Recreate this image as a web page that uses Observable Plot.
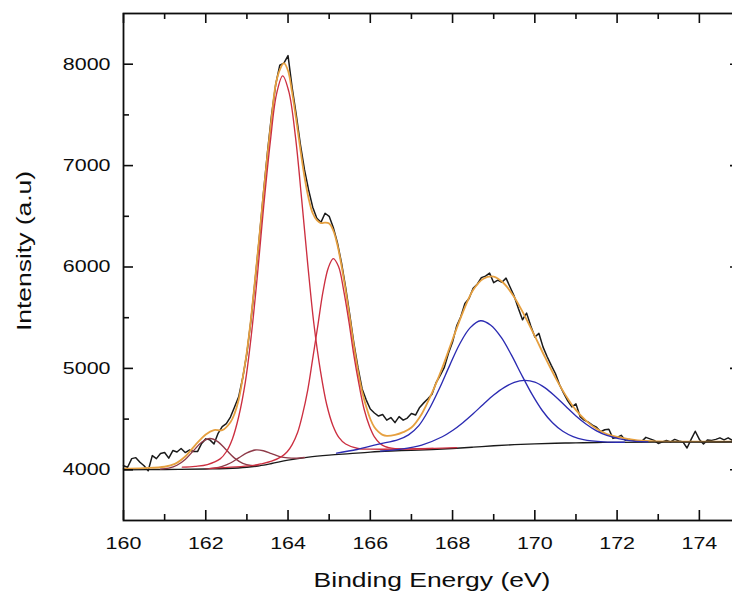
<!DOCTYPE html>
<html><head><meta charset="utf-8">
<script src="https://cdn.jsdelivr.net/npm/d3@7"></script>
<script src="https://cdn.jsdelivr.net/npm/@observablehq/plot@0.6"></script>
<style>html,body{margin:0;padding:0;background:#fff;} #chart{width:732px;height:598px;overflow:hidden}</style>
</head><body><div id="chart"></div>
<script>
// ---- tick values / labels ----
const xMajor = [160, 162, 164, 166, 168, 170, 172, 174];
const xMinor = [161, 163, 165, 167, 169, 171, 173];
const yMajor = [4000, 5000, 6000, 7000, 8000];
const yMinor = [4500, 5500, 6500, 7500];
const xTitle = "Binding Energy (eV)";
const yTitle = "Intensity (a.u)";

// ---- raw spectrum (0.1 eV steps from 160.0 to 175.0) ----
const rawStart = 160, rawStep = 0.1;
const rawIntensity = [
  4040, 4025, 4110, 4120, 4075, 4040, 3990, 4140, 4110, 4160,
  4170, 4115, 4190, 4175, 4210, 4170, 4195, 4180, 4180, 4260,
  4305, 4295, 4255, 4360, 4425, 4455, 4520, 4620, 4720, 4910,
  5150, 5480, 5870, 6280, 6720, 7130, 7500, 7800, 7990, 8010,
  8085, 7770, 7500, 7210, 6960, 6760, 6590, 6480, 6440, 6530,
  6500, 6390, 6240, 6040, 5800, 5530, 5250, 5010, 4800, 4690,
  4600, 4560, 4530, 4545, 4490, 4515, 4465, 4525, 4490, 4510,
  4555, 4540, 4615, 4660, 4700, 4745, 4860, 4930, 5010, 5150,
  5260, 5420, 5510, 5640, 5690, 5790, 5830, 5895, 5910, 5940,
  5845, 5870, 5850, 5890, 5800, 5710, 5590, 5480, 5545, 5420,
  5310, 5345, 5210, 5115, 5030, 4950, 4840, 4755, 4680, 4620,
  4650, 4525, 4490, 4470, 4440, 4420, 4375, 4395, 4400, 4310,
  4320, 4340, 4290, 4300, 4290, 4285, 4280, 4320, 4305, 4290,
  4260, 4275, 4290, 4275, 4300, 4285, 4275, 4215, 4300, 4380,
  4300, 4255, 4295, 4290, 4300, 4315, 4295, 4315, 4290, 4300,
  4290
];

// ---- fitted envelope ----
const envEnergy = [160, 160.5, 161, 161.25, 161.5, 161.75, 162, 162.2, 162.4, 162.6, 162.7, 162.8, 162.9,
  163.0, 163.1, 163.2, 163.3, 163.4, 163.5, 163.6, 163.7, 163.8, 163.9,
  164.0, 164.1, 164.2, 164.3, 164.4, 164.5, 164.6, 164.7, 164.8, 164.9,
  165.0, 165.1, 165.2, 165.3, 165.4, 165.5, 165.6, 165.7, 165.8, 165.9,
  166.0, 166.1, 166.2, 166.3, 166.4, 166.6, 166.8, 167.0, 167.25, 167.5, 167.75, 168.0,
  168.25, 168.5, 168.75, 169.0, 169.25, 169.5, 169.75, 170.0, 170.25, 170.5, 170.75, 171.0,
  171.25, 171.5, 171.75, 172.0, 172.5, 173.0, 174.0, 175.0];
const envIntensity = [4012, 4017, 4030, 4058, 4131, 4246, 4349, 4392, 4391, 4469, 4554, 4691, 4911,
  5166, 5494, 5882, 6286, 6711, 7111, 7470, 7800, 7945, 8010,
  7935, 7720, 7450, 7160, 6890, 6678, 6530, 6462, 6433, 6437,
  6428, 6360, 6218, 6013, 5771, 5504, 5225, 4975, 4772, 4624,
  4501, 4419, 4374, 4344, 4335, 4344, 4371, 4417, 4551, 4759, 5005, 5285,
  5553, 5774, 5885, 5905, 5837, 5702, 5521, 5318, 5108, 4909, 4734, 4588,
  4483, 4404, 4352, 4324, 4290, 4279, 4277, 4277];

// ---- background ----
const bgEnergy = [160, 161, 162, 162.5, 163, 163.3, 163.6, 164, 164.5, 165, 165.5, 166, 166.5, 167, 167.5,
  168, 168.5, 169, 169.5, 170, 170.5, 171, 171.5, 172, 173, 175];
const bgIntensity = [4000, 4003, 4008, 4013, 4025, 4040, 4062, 4095, 4125, 4145, 4160, 4175, 4185, 4192, 4200,
  4210, 4223, 4237, 4248, 4256, 4262, 4266, 4269, 4271, 4273, 4274];

// ---- components ----
const p1Energy = [161.43, 161.74, 162.04, 162.35, 162.50, 162.65, 162.80, 162.96, 163.11, 163.26, 163.41, 163.57,
  163.72, 163.87, 164.02, 164.18, 164.33, 164.48, 164.63, 164.79, 164.94, 165.09, 165.24, 165.40, 165.70,
  166.01, 166.31, 166.92, 167.53];
const p1Intensity = [4026, 4034, 4052, 4108, 4178, 4307, 4523, 4860, 5337, 5938, 6607, 7239,
  7705, 7885, 7729, 7285, 6674, 6024, 5435, 4971, 4644, 4438, 4317, 4254, 4210,
  4204, 4203, 4206, 4211];

const p2Energy = [162.10, 163.10, 163.35, 163.60, 163.85, 163.98, 164.10, 164.23, 164.35, 164.48, 164.60, 164.73,
  164.85, 164.98, 165.10, 165.23, 165.35, 165.48, 165.60, 165.73, 165.85, 165.98, 166.10, 166.23, 166.35,
  166.60, 166.85, 167.10, 168.10];
const p2Intensity = [4014, 4041, 4059, 4085, 4133, 4178, 4249, 4365, 4542, 4789, 5097, 5437,
  5757, 5993, 6083, 6002, 5775, 5462, 5131, 4832, 4597, 4430, 4325, 4263, 4231,
  4209, 4204, 4205, 4218];

const p3Energy = [160.9, 161.1, 161.3, 161.5, 161.7, 161.9, 162.1, 162.3, 162.5, 162.7, 162.9, 163.1, 163.3];
const p3Intensity = [4006, 4016, 4045, 4102, 4188, 4272, 4309, 4276, 4195, 4115, 4064, 4043, 4043];

const p4Energy = [162.0, 162.2, 162.4, 162.6, 162.8, 163.0, 163.2, 163.4, 163.6, 163.8, 164.0, 164.2, 164.4];
const p4Intensity = [4010, 4017, 4034, 4067, 4117, 4166, 4195, 4188, 4159, 4130, 4117, 4114, 4121];

const p5Energy = [165.18, 165.68, 166.18, 166.68, 166.93, 167.18, 167.43, 167.68, 167.93, 168.18, 168.43, 168.68,
  168.93, 169.18, 169.43, 169.68, 169.93, 170.18, 170.43, 170.68, 170.93, 171.18, 171.68, 172.18];
const p5Intensity = [4165, 4200, 4251, 4298, 4345, 4436, 4597, 4802, 5030, 5246, 5402, 5470,
  5426, 5308, 5133, 4935, 4746, 4585, 4464, 4380, 4328, 4298, 4276, 4272];

const p6Energy = [166.25, 166.75, 167.25, 167.75, 168.0, 168.25, 168.5, 168.75, 169.0, 169.25, 169.5, 169.75,
  170.0, 170.25, 170.5, 170.75, 171.0, 171.25, 171.5, 171.75, 172.25, 172.75];
const p6Intensity = [4184, 4204, 4244, 4326, 4388, 4465, 4553, 4647, 4737, 4811, 4862, 4882,
  4865, 4808, 4723, 4626, 4531, 4449, 4384, 4339, 4291, 4276];

// ---- build tables ----
const pts = (xs, ys) => xs.map((x, i) => ({x, y: ys[i]}));
const raw = rawIntensity.map((y, i) => ({x: rawStart + i * rawStep, y}));

const W = 732, H = 598;
const mL = 123, mT = 13, mB = 78, mR = -8;
const innerW = W - mL - mR, innerH = H - mT - mB;
const majorLen = 10, minorLen = 6;
const axisColor = "#0d0d0d";
const stretch = 1.26;

const red = "#CC2F40", darkRed = "#8E3A48", blue = "#2B2BB2", orange = "#E6A040", ink = "#1a1a1a";
const comp = (xs, ys, color) => Plot.line(pts(xs, ys), {x: "x", y: "y", stroke: color, strokeWidth: 1.35, curve: "catmull-rom"});

const plot = Plot.plot({
  width: W, height: H,
  marginLeft: mL, marginRight: mR, marginTop: mT, marginBottom: mB,
  style: {fontFamily: "'Liberation Sans', Arial, sans-serif", fontSize: "17px", color: axisColor, background: "#fff", overflow: "hidden"},
  x: {domain: [160, 175], label: null},
  y: {domain: [3500, 8500], label: null},
  marks: [
    Plot.line(raw, {x: "x", y: "y", stroke: ink, strokeWidth: 1.5}),
    Plot.line(pts(envEnergy, envIntensity), {x: "x", y: "y", stroke: orange, strokeWidth: 1.8, curve: "catmull-rom"}),
    Plot.line(pts(bgEnergy, bgIntensity), {x: "x", y: "y", stroke: ink, strokeWidth: 1.35, curve: "catmull-rom"}),
    comp(p3Energy, p3Intensity, darkRed),
    comp(p4Energy, p4Intensity, darkRed),
    comp(p1Energy, p1Intensity, red),
    comp(p2Energy, p2Intensity, red),
    comp(p5Energy, p5Intensity, blue),
    comp(p6Energy, p6Intensity, blue),
    Plot.frame({stroke: axisColor, strokeWidth: 1.8}),
    // inward ticks, bottom & top
    Plot.tickX(xMajor, {x: d => d, insetTop: innerH - majorLen, stroke: axisColor, strokeWidth: 1.6}),
    Plot.tickX(xMinor, {x: d => d, insetTop: innerH - minorLen, stroke: axisColor, strokeWidth: 1.6}),
    Plot.tickX(xMajor, {x: d => d, insetBottom: innerH - majorLen, stroke: axisColor, strokeWidth: 1.6}),
    Plot.tickX(xMinor, {x: d => d, insetBottom: innerH - minorLen, stroke: axisColor, strokeWidth: 1.6}),
    // inward ticks, left & right
    Plot.tickY(yMajor, {y: d => d, insetRight: innerW - majorLen, stroke: axisColor, strokeWidth: 1.6}),
    Plot.tickY(yMinor, {y: d => d, insetRight: innerW - minorLen, stroke: axisColor, strokeWidth: 1.6}),
    Plot.tickY(yMajor, {y: d => d, insetLeft: innerW - majorLen, stroke: axisColor, strokeWidth: 1.6}),
    Plot.tickY(yMinor, {y: d => d, insetLeft: innerW - minorLen, stroke: axisColor, strokeWidth: 1.6}),
    Plot.axisX(xMajor, {tickSize: 0, tickPadding: 16, tickFormat: d => String(d), fontSize: 17, label: null}),
    Plot.axisY(yMajor, {tickSize: 0, tickPadding: 13, tickFormat: d => String(d), fontSize: 17, label: null}),
    Plot.text([xTitle], {text: d => d, frameAnchor: "bottom", dy: 66, fontSize: 21, fill: axisColor, textAnchor: "middle"}),
    Plot.text([yTitle], {text: d => d, frameAnchor: "left", dx: -99, dy: -16, rotate: -90, fontSize: 21, fill: axisColor, textAnchor: "middle"})
  ]
});

document.getElementById("chart").append(plot);
// the reference's lettering is horizontally widened; reproduce it along each text's direction
plot.querySelectorAll("text").forEach(t => {
  const tr = t.getAttribute("transform") || "";
  if (tr.includes("rotate")) {
    t.setAttribute("transform", tr + ` scale(${stretch},1)`);
  } else {
    const len = t.getComputedTextLength();
    if (len > 0) {
      t.setAttribute("textLength", (len * stretch).toFixed(1));
      t.setAttribute("lengthAdjust", "spacingAndGlyphs");
    }
  }
});
</script>
</body></html>
